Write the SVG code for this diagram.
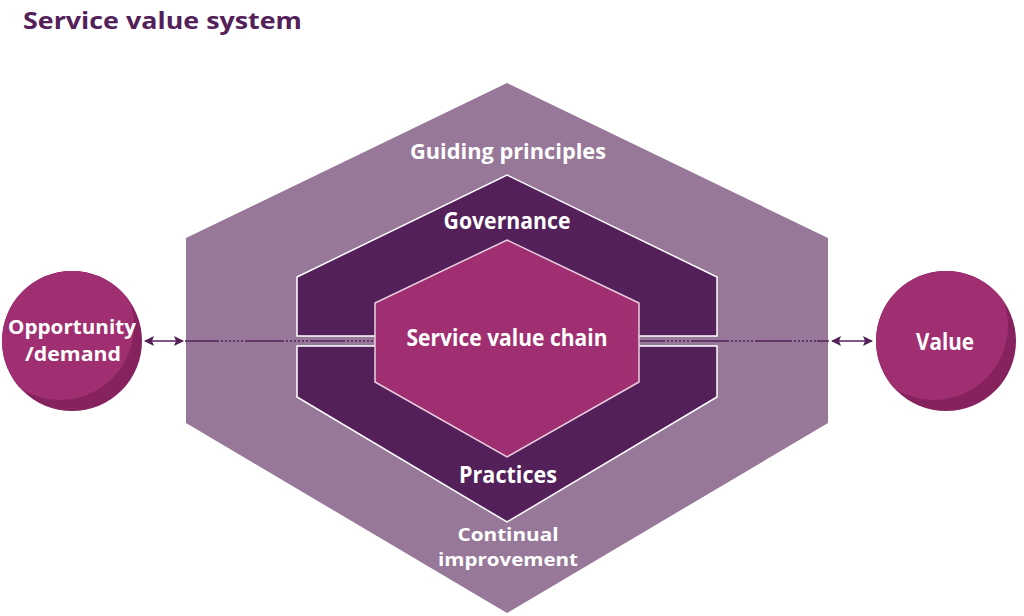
<svg xmlns="http://www.w3.org/2000/svg" width="1024" height="616" viewBox="0 0 1024 616">
<style>
.lbl{font-family:"Open Sans","Liberation Sans",sans-serif;font-weight:700;fill:#ffffff;text-anchor:middle}
.title{font-family:"Open Sans","Liberation Sans",sans-serif;font-weight:700;fill:#53205a}
.ln{stroke:#53205a;stroke-width:1.5;fill:none}
.dot{stroke:#53205a;stroke-width:1.5;fill:none;stroke-dasharray:2 2}
.mid{fill:#53205a;stroke:#ffffff;stroke-width:1.5}
</style>
<defs>
<marker id="ah" viewBox="0 0 10 10" refX="9" refY="5" markerWidth="10" markerHeight="10" markerUnits="userSpaceOnUse" orient="auto-start-reverse">
<path d="M0,0 L10,5 L0,10 L2,5 Z" fill="#53205a"/>
</marker>
<clipPath id="cl"><circle cx="72" cy="341" r="70"/></clipPath>
<clipPath id="cr"><circle cx="946" cy="341" r="70"/></clipPath>
</defs>
<rect width="1024" height="616" fill="#ffffff"/>
<text class="title" x="23" y="29" font-size="23" textLength="279" lengthAdjust="spacingAndGlyphs">Service value system</text>

<g id="outer">
<polygon points="507,83 828,238 828,423 507,613 186,423 186,238" fill="#977899"/>
<text class="lbl" x="508" y="159" font-size="22" textLength="196" lengthAdjust="spacingAndGlyphs">Guiding principles</text>
<text class="lbl" x="508" y="541" font-size="18" textLength="101" lengthAdjust="spacingAndGlyphs">Continual</text>
<text class="lbl" x="508" y="566" font-size="18" textLength="140" lengthAdjust="spacingAndGlyphs">improvement</text>
</g>

<g id="governance">
<polygon class="mid" points="297,336 297,277 507,175 717,277 717,336"/>
<text class="lbl" x="507" y="229" font-size="23" textLength="127" lengthAdjust="spacingAndGlyphs">Governance</text>
</g>
<g id="practices">
<polygon class="mid" points="297,346 297,397 507,522 717,397 717,346"/>
<text class="lbl" x="508" y="483" font-size="23" textLength="98" lengthAdjust="spacingAndGlyphs">Practices</text>
</g>

<g id="connectors">
<line class="ln" x1="145" y1="341" x2="183" y2="341" marker-start="url(#ah)" marker-end="url(#ah)"/>
<line class="ln" x1="185" y1="341" x2="217" y2="341"/>
<line class="dot" x1="217" y1="341" x2="247" y2="341"/>
<line class="ln" x1="247" y1="341" x2="282" y2="341"/>
<line class="dot" x1="282" y1="341" x2="310" y2="341"/>
<line class="ln" x1="310" y1="341" x2="343" y2="341"/>
<line class="dot" x1="343" y1="341" x2="375" y2="341"/>
<line class="ln" x1="639" y1="341" x2="663" y2="341"/>
<line class="dot" x1="663" y1="341" x2="692" y2="341"/>
<line class="ln" x1="692" y1="341" x2="727" y2="341"/>
<line class="dot" x1="727" y1="341" x2="755" y2="341"/>
<line class="ln" x1="755" y1="341" x2="790" y2="341"/>
<line class="dot" x1="790" y1="341" x2="817" y2="341"/>
<line class="ln" x1="817" y1="341" x2="829" y2="341"/>
<line class="ln" x1="832" y1="341" x2="872" y2="341" marker-start="url(#ah)" marker-end="url(#ah)"/>
</g>

<g id="chain">
<polygon points="507,240 639,303 639,382 507,457 375,382 375,303" fill="#a02f72" stroke="#e9cfe0" stroke-width="1.5"/>
<text class="lbl" x="507" y="346" font-size="23" textLength="201" lengthAdjust="spacingAndGlyphs">Service value chain</text>
</g>

<g id="opportunity">
<circle cx="72" cy="341" r="70" fill="#86235f"/>
<circle cx="60" cy="326" r="74" fill="#a02f72" clip-path="url(#cl)"/>
<text class="lbl" x="72" y="334" font-size="20" textLength="128" lengthAdjust="spacingAndGlyphs">Opportunity</text>
<text class="lbl" x="73" y="361" font-size="20" textLength="96" lengthAdjust="spacingAndGlyphs">/demand</text>
</g>

<g id="value">
<circle cx="946" cy="341" r="70" fill="#86235f"/>
<circle cx="934" cy="326" r="74" fill="#a02f72" clip-path="url(#cr)"/>
<text class="lbl" x="945" y="350" font-size="23" textLength="58" lengthAdjust="spacingAndGlyphs">Value</text>
</g>
</svg>
